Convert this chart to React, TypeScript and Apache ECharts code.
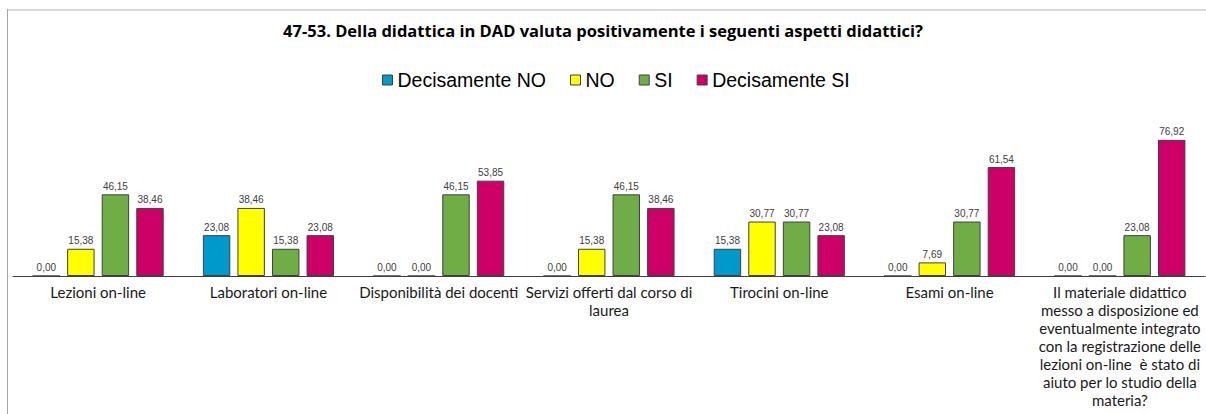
import React, { useEffect, useRef } from "react";
import * as echarts from "echarts";

const title = "47-53. Della didattica in DAD valuta positivamente i seguenti aspetti didattici?";
const categories = [
  "Lezioni on-line",
  "Laboratori on-line",
  "Disponibilità dei docenti",
  "Servizi offerti dal corso di\nlaurea",
  "Tirocini on-line",
  "Esami on-line",
  "Il materiale didattico\nmesso a disposizione ed\neventualmente integrato\ncon la registrazione delle\nlezioni on-line  è stato di\naiuto per lo studio della\nmateria?",
];
const seriesNames = ["Decisamente NO", "NO", "SI", "Decisamente SI"];
const decisamenteNo = [0, 23.08, 0, 0, 15.38, 0, 0];
const no = [15.38, 38.46, 0, 15.38, 30.77, 7.69, 0];
const si = [46.15, 15.38, 46.15, 46.15, 30.77, 30.77, 23.08];
const decisamenteSi = [38.46, 23.08, 53.85, 38.46, 23.08, 61.54, 76.92];
const colors = ["#0099CC", "#FFFF00", "#70AD47", "#CC0066"];

export default function App() {
  const ref = useRef<HTMLDivElement>(null);
  useEffect(() => {
    document.body.style.margin = "0";
    const chart = echarts.init(ref.current!, null, { renderer: "svg" });
    const values = [decisamenteNo, no, si, decisamenteSi];
    chart.setOption({
      animation: false,
      backgroundColor: "#ffffff",
      title: {
        text: title,
        left: "center",
        top: 17,
        textStyle: { fontFamily: "Open Sans", fontWeight: "bold", fontSize: 16.5, color: "#000" },
      },
      legend: {
        data: seriesNames,
        top: 65,
        left: 377,
        itemWidth: 10,
        itemHeight: 10,
        itemGap: 24,
        icon: "rect",
        itemStyle: { borderColor: "#404040", borderWidth: 1 },
        textStyle: { fontFamily: "Liberation Sans", fontSize: 19.5, color: "#000", padding: [0, 0, 0, 0] },
      },
      graphic: [
        { type: "line", shape: { x1: 7, y1: 10, x2: 1206, y2: 10 }, style: { stroke: "#d9d9d9", lineWidth: 2 } },
        { type: "line", shape: { x1: 7.5, y1: 9, x2: 7.5, y2: 414 }, style: { stroke: "#a6a6a6", lineWidth: 1 } },
      ],
      grid: { left: 13, right: 1, top: 99, bottom: 138, containLabel: false },
      xAxis: {
        type: "category",
        data: categories,
        axisLine: { show: true, lineStyle: { color: "#404040", width: 1 } },
        axisTick: { show: false },
        axisLabel: {
          interval: 0,
          margin: 7,
          fontFamily: "Lato",
          fontSize: 15,
          lineHeight: 18,
          color: "#1a1a1a",
          align: "center",
        },
      },
      yAxis: { type: "value", min: 0, max: 100, show: false, splitLine: { show: false } },
      series: values.map((v, i) => ({
        name: seriesNames[i],
        type: "bar",
        data: v,
        barGap: "26%",
        barCategoryGap: "23%",
        itemStyle: { color: colors[i], borderColor: "#404040", borderWidth: 1 },
        label: {
          show: true,
          position: "top",
          distance: 3,
          fontFamily: "Liberation Sans",
          fontSize: 10,
          color: "#404040",
          formatter: (p: any) => Number(p.value).toFixed(2).replace(".", ","),
        },
      })),
    });
    return () => chart.dispose();
  }, []);
  return <div ref={ref} style={{ width: 1206, height: 414 }} />;
}
